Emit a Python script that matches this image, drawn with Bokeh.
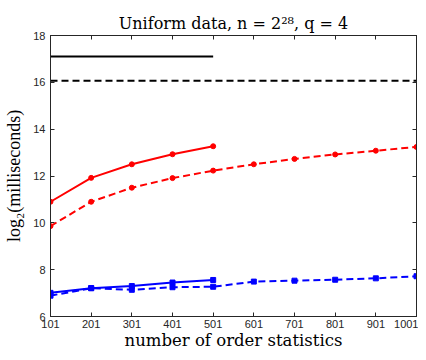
from bokeh.plotting import figure
from bokeh.models import LinearAxis, FixedTicker, Range1d
from bokeh.embed import file_html
from bokeh.resources import INLINE

x_ticks = [101, 201, 301, 401, 501, 601, 701, 801, 901, 1001]
y_ticks = [6, 8, 10, 12, 14, 16, 18]

x_short = [101, 201, 301, 401, 501]
x_long = [101, 201, 301, 401, 501, 601, 701, 801, 901, 1001]

black_solid = [17.1, 17.1, 17.1, 17.1, 17.1]
black_dashed = [16.07, 16.07, 16.07, 16.07, 16.07, 16.07, 16.07, 16.07, 16.07, 16.07]
red_solid = [10.9, 11.92, 12.5, 12.93, 13.27]
red_dashed = [9.86, 10.9, 11.5, 11.91, 12.23, 12.5, 12.73, 12.92, 13.08, 13.24]
blue_solid = [7.01, 7.21, 7.3, 7.45, 7.56]
blue_dashed = [6.89, 7.21, 7.14, 7.25, 7.27, 7.49, 7.53, 7.57, 7.63, 7.72]

p = figure(width=418, height=352, output_backend="svg", toolbar_location=None,
           x_range=Range1d(101, 1001), y_range=Range1d(6, 18),
           min_border_left=50, min_border_right=2, min_border_top=35, min_border_bottom=33)

p.title.text = "Uniform data, n = 2\u00b2\u2078, q = 4"
p.title.align = "center"
p.title.text_font = "DejaVu Serif"
p.title.text_font_size = "16px"
p.title.text_font_style = "normal"
p.title.text_color = "#000000"
p.title.offset = 0
p.title.standoff = 6

p.grid.visible = False
p.outline_line_color = "#262626"
p.outline_line_width = 1
p.background_fill_color = "white"
p.border_fill_color = "white"

for ax in (p.xaxis[0], p.yaxis[0]):
    ax.major_tick_in = 4
    ax.major_tick_out = 0
    ax.minor_tick_in = 0
    ax.minor_tick_out = 0
    ax.axis_line_color = "#262626"
    ax.major_tick_line_color = "#262626"
    ax.major_label_text_font = "'Liberation Sans'"
    ax.major_label_text_font_size = "11px"
    ax.major_label_text_color = "#262626"
    ax.axis_label_text_font_style = "normal"
    ax.axis_label_text_color = "#000000"

p.xaxis[0].ticker = FixedTicker(ticks=x_ticks)
p.yaxis[0].ticker = FixedTicker(ticks=y_ticks)
p.xaxis[0].axis_label = "number of order statistics"
p.xaxis[0].axis_label_text_font = "DejaVu Serif"
p.xaxis[0].axis_label_text_font_size = "16.5px"
p.xaxis[0].axis_label_standoff = 0
p.xaxis[0].major_label_standoff = 3
p.yaxis[0].axis_label = "log\u2082(milliseconds)"
p.yaxis[0].axis_label_text_font = "'Liberation Serif'"
p.yaxis[0].axis_label_text_font_size = "18px"
p.yaxis[0].axis_label_standoff = 6
p.yaxis[0].major_label_standoff = 5

top = LinearAxis(ticker=FixedTicker(ticks=[], minor_ticks=x_ticks),
                 major_tick_in=0, major_tick_out=0, minor_tick_in=4, minor_tick_out=0,
                 major_label_standoff=0, axis_label_standoff=0,
                 axis_line_color="#262626", minor_tick_line_color="#262626")
right = LinearAxis(ticker=FixedTicker(ticks=[], minor_ticks=y_ticks),
                   major_tick_in=0, major_tick_out=0, minor_tick_in=4, minor_tick_out=0,
                   major_label_standoff=0, axis_label_standoff=0,
                   axis_line_color="#262626", minor_tick_line_color="#262626")
p.add_layout(top, "above")
p.add_layout(right, "right")

p.line(x_short, black_solid, color="black", line_width=2)
p.line(x_long, black_dashed, color="black", line_width=2, line_dash="7 4")

p.line(x_short, red_solid, color="red", line_width=2)
p.scatter(x_short, red_solid, color="red", size=5)
p.line(x_long, red_dashed, color="red", line_width=2, line_dash="7 4")
p.scatter(x_long, red_dashed, color="red", size=5)

p.line(x_short, blue_solid, color="blue", line_width=2)
p.scatter(x_short, blue_solid, color="blue", size=5, marker="square")
p.line(x_long, blue_dashed, color="blue", line_width=2, line_dash="7 4")
p.scatter(x_long, blue_dashed, color="blue", size=5, marker="square")

open("out.html", "w").write(file_html(p, INLINE))
